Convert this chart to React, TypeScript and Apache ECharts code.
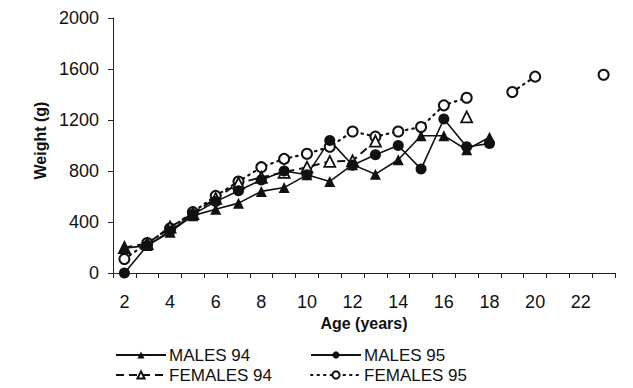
import React, { useEffect, useRef } from "react";
import * as echarts from "echarts";

const ages = ["2","3","4","5","6","7","8","9","10","11","12","13","14","15","16","17","18","19","20","21","22","23"];
const yTicks = [0, 400, 800, 1200, 1600, 2000];

const males94 = [195, 215, 320, 450, 500, 548, 640, 670, 770, 718, 850, 775, 888, 1077, 1077, 967, 1065, null, null, null, null, null];
const males95 = [0, 215, 330, 460, 560, 645, 730, 800, 770, 1040, 845, 928, 1000, 815, 1208, 990, 1015, null, null, null, null, null];
const females94 = [200, 230, 360, 465, 585, 705, 750, 790, 830, 875, 880, 1035, null, null, null, 1224, null, null, null, null, null, null];
const females95 = [110, 235, 350, 477, 605, 718, 830, 895, 935, 990, 1110, 1070, 1110, 1145, 1315, 1375, null, 1420, 1540, null, null, 1555];

const FONT = "'Liberation Sans', Arial, Helvetica, sans-serif";

export default function App() {
  const ref = useRef<HTMLDivElement>(null);
  useEffect(() => {
    if (!ref.current) return;
    const chart = echarts.init(ref.current, null, { renderer: "svg" });
    const base = {
      type: "line",
      connectNulls: false,
      z: 2,
    };
    const legendCommon = {
      orient: "vertical",
      top: 345,
      padding: 0,
      itemWidth: 50,
      itemHeight: 9,
      itemGap: 0,
      textStyle: { fontFamily: FONT, fontSize: 17, color: "#111", lineHeight: 20, padding: [0, 0, 0, -2] },
    };
    chart.setOption({
      animation: false,
      backgroundColor: "#ffffff",
      textStyle: { fontFamily: FONT, color: "#000" },
      grid: { left: 113, right: 18, top: 18, bottom: 115, containLabel: false },
      legend: [
        { ...legendCommon, left: 115, data: ["MALES 94", "FEMALES 94"] },
        { ...legendCommon, left: 310, data: ["MALES 95", "FEMALES 95"] },
      ],
      xAxis: {
        type: "category",
        data: ages,
        boundaryGap: true,
        name: "Age (years)",
        nameLocation: "middle",
        nameGap: 42,
        nameTextStyle: { fontFamily: FONT, fontSize: 16, fontWeight: "bold", color: "#111" },
        axisLine: { lineStyle: { color: "#222", width: 1 } },
        axisTick: { show: true, interval: 0, length: 5, alignWithLabel: false, lineStyle: { color: "#222" } },
        axisLabel: { interval: 1, margin: 20, fontSize: 18, color: "#111", fontFamily: FONT },
        splitLine: { show: false },
      },
      yAxis: {
        type: "value",
        min: yTicks[0],
        max: yTicks[yTicks.length - 1],
        interval: 400,
        name: "Weight (g)",
        nameLocation: "middle",
        nameGap: 61,
        nameTextStyle: { fontFamily: FONT, fontSize: 16, fontWeight: "bold", color: "#111", padding: [0, 0, 0, 10] },
        axisLine: { show: true, lineStyle: { color: "#222", width: 1 } },
        axisTick: { show: true, length: 5, lineStyle: { color: "#222" } },
        axisLabel: { margin: 14, fontSize: 18, color: "#111", fontFamily: FONT, formatter: (v: number) => String(v) },
        splitLine: { show: false },
      },
      series: [
        {
          ...base,
          name: "FEMALES 95",
          data: females95,
          symbol: "circle",
          symbolSize: 10,
          itemStyle: { color: "#fff", borderColor: "#111", borderWidth: 2 },
          lineStyle: { color: "#111", width: 2.2, type: [1.5, 5], cap: "round" },
        },
        {
          ...base,
          name: "FEMALES 94",
          data: females94,
          symbol: "triangle",
          symbolSize: 11,
          itemStyle: { color: "#fff", borderColor: "#111", borderWidth: 1.8 },
          lineStyle: { color: "#111", width: 2, type: [8, 5] },
        },
        {
          ...base,
          name: "MALES 94",
          data: males94,
          symbol: "triangle",
          symbolSize: 11,
          itemStyle: { color: "#111", borderColor: "#111", borderWidth: 0 },
          lineStyle: { color: "#111", width: 1.6, type: "solid" },
        },
        {
          ...base,
          name: "MALES 95",
          data: males95,
          symbol: "circle",
          symbolSize: 11,
          itemStyle: { color: "#111", borderColor: "#111", borderWidth: 0 },
          lineStyle: { color: "#111", width: 1.6, type: "solid" },
        },
      ],
    });
    return () => chart.dispose();
  }, []);
  return <div ref={ref} style={{ width: 633, height: 388, position: "absolute", left: 0, top: 0 }} />;
}
